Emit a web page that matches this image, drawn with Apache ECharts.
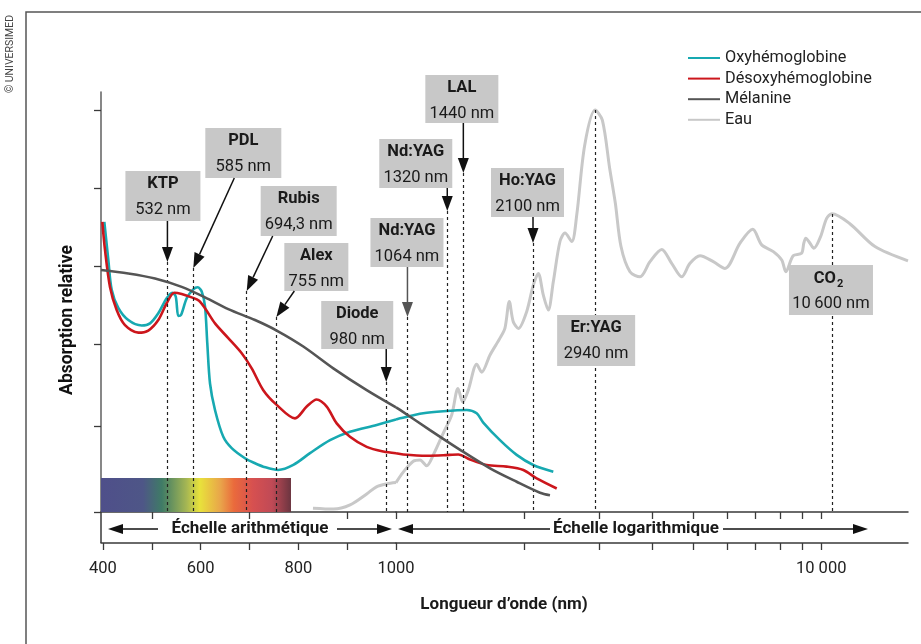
<!DOCTYPE html>
<html><head><meta charset="utf-8">
<script src="https://cdn.jsdelivr.net/npm/echarts/dist/echarts.min.js"></script>
<style>html,body{margin:0;padding:0;background:#fff}#c{width:921px;height:644px}</style>
</head><body><div id="c"></div>
<script>
// ---------- DATA (wavelength nm, relative absorption 0-100) ----------
const oxy = [[402.8,69.1],[411,60.0],[417.9,52.9],[431.4,48.6],[451.9,45.7],[479.3,44.4],[496.3,44.9],[513.3,47.3],[530.5,50.9],[542,52.2],[549,51.3],[554.3,46.7],[559.8,46.9],[571.5,50.9],[585,53.0],[594,53.5],[602.2,52.5],[609,48.9],[613.6,40.2],[619.2,30.6],[629.4,24.3],[646.4,17.9],[663.6,15.2],[690.8,12.8],[711.3,11.6],[728.3,10.8],[759,10.0],[789.7,11.2],[823.9,14.0],[864.9,17.1],[905.8,19.1],[960.5,20.7],[1000,22.0],[1022,22.3],[1159,23.5],[1292,24.0],[1467,24.3],[1548,23.5],[1604,21.3],[1756,17.1],[1922,13.6],[2103,11.2],[2344,9.6]];
const deoxy = [[398.7,69.1],[404.2,62.4],[414.4,53.6],[428.1,48.1],[445.1,44.5],[472.4,42.7],[492.8,43.2],[513.3,45.7],[530.5,49.7],[546.1,52.2],[561.2,51.9],[581.7,51.1],[596.7,50.3],[609,48.5],[629.4,44.9],[656.6,41.4],[684.1,37.8],[704.6,34.2],[728.3,29.0],[755.7,25.5],[793.2,22.3],[817.2,25.1],[837.6,26.8],[858.1,25.1],[878.6,21.1],[905.8,17.9],[940,15.5],[974,14.4],[1000,14.0],[1040,13.7],[1181,13.4],[1292,13.5],[1401,13.7],[1493,12.5],[1634,11.2],[1821,10.8],[1993,10.0],[2142,8.0],[2388,5.6]];
const melanin = [[396,57.6],[451.9,56.8],[506.6,55.6],[561.2,53.6],[609,51.1],[656.6,48.3],[711.3,45.7],[755.7,43.2],[810.2,39.4],[871.6,34.2],[940,29.0],[1000,24.9],[1022,24.3],[1202,19.5],[1415,14.8],[1664,10.4],[1922,7.2],[2181,4.6],[2302,4.0]];
const water = [[830,0.9],[872,0.7],[906,1.7],[940,4.3],[960,6.0],[981,6.7],[1000,7.0],[1040,9.5],[1098,12.1],[1139,12.4],[1181,11.0],[1224,13.6],[1292,18.8],[1352,23.1],[1399,29.4],[1435,26.2],[1479,29.0],[1548,35.2],[1591,33.3],[1664,37.4],[1756,41.4],[1804,43.8],[1847,50.1],[1887,45.3],[1940,43.7],[2029,47.7],[2103,54.0],[2161,56.8],[2220,51.7],[2281,48.1],[2344,54.8],[2430,64.4],[2497,66.4],[2590,64.4],[2661,70.7],[2779,87.4],[2940,95.7],[3057,93.3],[3181,81.8],[3280,73.5],[3382,63.2],[3550,57.2],[3749,56.0],[3957,59.6],[4216,62.5],[4450,59.2],[4697,56.0],[4914,59.2],[5188,61.0],[5575,59.6],[5939,58.0],[6442,64.0],[6902,67.3],[7245,63.6],[7717,62.0],[8075,60.0],[8260,57.2],[8590,61.0],[8990,61.6],[9100,64.0],[9200,65.2],[9410,64.0],[9610,62.8],[9960,65.5],[10300,69.9],[10600,71.0],[11660,68.7],[13380,63.2],[16000,59.8]];
const spectrumRange = [396, 785];
const spectrumTop = 8.1;
const laserNames = ['KTP','PDL','Rubis','Alex','Diode','Nd:YAG','Nd:YAG','LAL','Ho:YAG','Er:YAG','CO2'];
const laserWl = [532,585,694.3,755,980,1064,1320,1440,2100,2940,10600];
const laserText = ['532 nm','585 nm','694,3 nm','755 nm','980 nm','1064 nm','1320 nm','1440 nm','2100 nm','2940 nm','10\u2009600 nm'];
const yTicks = [0,20.5,40,58.6,77.1,95.7];
const arithTicksUpper = [500,700,900,1000];
const arithTicksLower = [400,500,600,700,800,900,1000];
const arithLabels = [400,600,800,1000];
const logTicks = [2000,3000,4000,5000,6000,7000,8000,9000,10000];
const logLabels = [10000];
const seriesNames = ['Oxyhémoglobine','Désoxyhémoglobine','Mélanine','Eau'];

// ---------- LAYOUT ----------
const boxLayout = [
  {dx:-42, top:171, w:75, h:50, from:[0,221], tip:262},
  {dx:12,  top:128, w:76, h:50, from:[41,178], tip:268},
  {dx:14,  top:186, w:76, h:50, from:[26,236], tip:291},
  {dx:8,   top:243, w:64, h:48, from:[18,291], tip:317},
  {dx:-65, top:301, w:72, h:48, from:[0,349], tip:382},
  {dx:-37, top:218, w:73, h:49, from:[0,267], tip:317, gray:true},
  {dx:-68, top:139, w:73, h:49, from:[0,188], tip:211},
  {dx:-38, top:75,  w:73, h:48, from:[0,123], tip:173},
  {dx:-42, top:168, w:73, h:49, from:[0,217], tip:243},
  {dx:-38, top:315, w:78, h:51, from:null, tip:110},
  {dx:-43, top:265, w:84, h:50, from:null, tip:214}
];
const COL = {oxy:'#17a9b1', deoxy:'#cc161c', mel:'#555555', water:'#c8c8c8', box:'#c8c8c8', ink:'#1a1a1a'};
const FONT = 'Roboto, "Liberation Sans", sans-serif';

const chart = echarts.init(document.getElementById('c'));

function part(arr, lo){ return arr.filter(p => lo ? p[0] <= 1000 : p[0] >= 1000); }
function mk(name, data, g, color, width, z){
  return {type:'line', name, data, xAxisIndex: g===0?0:2, yAxisIndex: g, smooth:0.3,
    symbol:'none', showSymbol:false, color, itemStyle:{color}, lineStyle:{color, width}, z, silent:true};
}
const axisLineStyle = {color:'#3a3a3a', width:1.5};
const tickStyle = {color:'#3a3a3a', width:1.3};
const fmtNum = v => String(Math.round(v)).replace(/(\d)(?=(\d{3})+$)/g,'$1 ').replace(/^(\d) (\d{3})$/,'$1$2');
function xAx(g, type, min, max, offset, ticks, labels){
  return {gridIndex:g, type, min, max, position:'bottom', offset, logBase:10,
    axisLine:{show:true, onZero:false, lineStyle:axisLineStyle},
    axisTick:{show:true, customValues:ticks, length:7, lineStyle:tickStyle},
    axisLabel: labels ? {show:true, customValues:labels, fontSize:16.5, margin:17, color:'#222', fontFamily:FONT, formatter:fmtNum} : {show:false},
    splitLine:{show:false}, minorTick:{show:false}};
}

const series = [
  mk('Eau', part(water,true), 0, COL.water, 3, 1),
  mk('Eau', part(water,false), 1, COL.water, 3, 1),
  mk('Oxyhémoglobine', part(oxy,true), 0, COL.oxy, 2.6, 3),
  mk('Oxyhémoglobine', part(oxy,false), 1, COL.oxy, 2.6, 3),
  mk('Désoxyhémoglobine', part(deoxy,true), 0, COL.deoxy, 2.6, 4),
  mk('Désoxyhémoglobine', part(deoxy,false), 1, COL.deoxy, 2.6, 4),
  mk('Mélanine', part(melanin,true), 0, COL.mel, 2.6, 5),
  mk('Mélanine', part(melanin,false), 1, COL.mel, 2.6, 5)
];
series[0].markArea = {silent:true, itemStyle:{color: new echarts.graphic.LinearGradient(0,0,1,0,[
  {offset:0, color:'#4f4f8a'},{offset:0.22, color:'#4e5687'},{offset:0.32, color:'#3f7b66'},
  {offset:0.45, color:'#a5b653'},{offset:0.52, color:'#e8e23b'},{offset:0.63, color:'#e9a44a'},
  {offset:0.70, color:'#ea6a3c'},{offset:0.80, color:'#d65050'},{offset:0.90, color:'#c04a56'},
  {offset:1, color:'#6b3540'}])},
  data:[[{coord:[spectrumRange[0], spectrumTop]},{coord:[spectrumRange[1], 0]}]]};

const opt = {
  animation:false,
  backgroundColor:'#fff',
  textStyle:{fontFamily:FONT},
  grid:[
    {left:101, top:92, width:295, height:420},
    {left:396, top:92, width:512, height:420}
  ],
  xAxis:[
    xAx(0,'value',396,1000,0,arithTicksUpper,null),
    xAx(0,'value',396,1000,31,arithTicksLower,arithLabels),
    xAx(1,'log',1000,16000,0,logTicks,null),
    xAx(1,'log',1000,16000,31,logTicks,logLabels)
  ],
  yAxis:[
    {gridIndex:0, type:'value', min:0, max:100,
     axisLine:{show:true, onZero:false, lineStyle:{color:'#6a6a6a', width:1.6}},
     axisTick:{show:true, customValues:yTicks, length:7, lineStyle:tickStyle},
     axisLabel:{show:false}, splitLine:{show:false}},
    {gridIndex:1, type:'value', min:0, max:100, show:false, splitLine:{show:false}}
  ],
  legend:{orient:'vertical', left:683, top:45, itemWidth:32, itemHeight:2, itemGap:4.6, icon:'rect',
    textStyle:{fontSize:16.3, lineHeight:16, color:'#222', fontFamily:FONT}, data:seriesNames, selectedMode:false},
  series
};
chart.setOption(opt);

// ---------- annotations ----------
const g = [];
g.push({type:'polyline', shape:{points:[[26,700],[26,12],[960,12]]}, style:{stroke:'#555', lineWidth:1.5, fill:null}, silent:true});
g.push({type:'text', x:10, y:54, rotation:Math.PI/2, style:{text:'\u00a9 UNIVERSIMED', font:'10.5px '+FONT, fill:'#444', align:'center', verticalAlign:'middle'}, silent:true});
g.push({type:'text', x:68, y:320, rotation:Math.PI/2, style:{text:'Absorption relative', font:'bold 17.5px '+FONT, fill:'#111', align:'center', verticalAlign:'middle'}, silent:true});
g.push({type:'line', shape:{x1:101, y1:512, x2:101, y2:543}, style:{stroke:'#3a3a3a', lineWidth:1.5}, silent:true});
function arrowHead(tx,ty,sx,sy,len,hw,col){
  const L = Math.hypot(tx-sx, ty-sy), dx=(tx-sx)/L, dy=(ty-sy)/L;
  const bx = tx-dx*len, by = ty-dy*len;
  return [{type:'line', shape:{x1:sx,y1:sy,x2:bx,y2:by}, style:{stroke:col, lineWidth:1.5}, silent:true, z:60},
          {type:'polygon', shape:{points:[[tx,ty],[bx-dy*hw, by+dx*hw],[bx+dy*hw, by-dx*hw]]}, style:{fill:col}, silent:true, z:60}];
}
// scale arrows
[[158,108],[337,392],[550,398],[723,868]].forEach(a => g.push(...arrowHead(a[1],529,a[0],529,15,5,'#111')));
g.push({type:'text', x:250, y:529, style:{text:'\u00c9chelle arithm\u00e9tique', font:'bold 17px '+FONT, fill:COL.ink, align:'center', verticalAlign:'middle'}, silent:true});
g.push({type:'text', x:636, y:529, style:{text:'\u00c9chelle logarithmique', font:'bold 17px '+FONT, fill:COL.ink, align:'center', verticalAlign:'middle'}, silent:true});
g.push({type:'text', x:504, y:605, style:{text:'Longueur d\u2019onde (nm)', font:'bold 17px '+FONT, fill:COL.ink, align:'center', verticalAlign:'middle'}, silent:true});

const mlLo = [], mlHi = [];
laserWl.forEach((wl,i) => {
  const gi = wl <= 1000 ? 0 : 1;
  const L = boxLayout[i];
  const lx = chart.convertToPixel({gridIndex:gi}, [wl, 0])[0];
  const topVal = chart.convertFromPixel({gridIndex:gi}, [lx, L.tip])[1];
  (gi===0 ? mlLo : mlHi).push([{coord:[wl, topVal]},{coord:[wl, 0]}]);
  const bx = lx + L.dx, cx = bx + L.w/2;
  g.push({type:'rect', shape:{x:bx, y:L.top, width:L.w, height:L.h}, style:{fill:COL.box}, silent:true, z:50});
  if (laserNames[i] === 'CO2') {
    g.push({type:'text', x:cx+5, y:L.top+14, style:{text:'CO', font:'bold 16.5px '+FONT, fill:COL.ink, align:'right', verticalAlign:'middle'}, silent:true, z:55});
    g.push({type:'text', x:cx+6, y:L.top+19, style:{text:'2', font:'bold 11px '+FONT, fill:COL.ink, align:'left', verticalAlign:'middle'}, silent:true, z:55});
  } else {
    g.push({type:'text', x:cx, y:L.top+12.5, style:{text:laserNames[i], font:'bold 16.5px '+FONT, fill:COL.ink, align:'center', verticalAlign:'middle'}, silent:true, z:55});
  }
  g.push({type:'text', x:cx, y:L.top+38.5, style:{text:laserText[i], font:'16.5px '+FONT, fill:COL.ink, align:'center', verticalAlign:'middle'}, silent:true, z:55});
  if (L.from) g.push(...arrowHead(lx, L.tip, lx+L.from[0], L.from[1], 15, 5.5, L.gray ? '#555' : '#111'));
});
const ml = d => ({silent:true, symbol:['none','none'], label:{show:false}, lineStyle:{type:[3,3], color:'#222', width:1.2}, data:d});
opt.series[0].markLine = ml(mlLo);
opt.series[1].markLine = ml(mlHi);
opt.graphic = {elements:g};
chart.setOption(opt, true);
</script>
</body></html>
